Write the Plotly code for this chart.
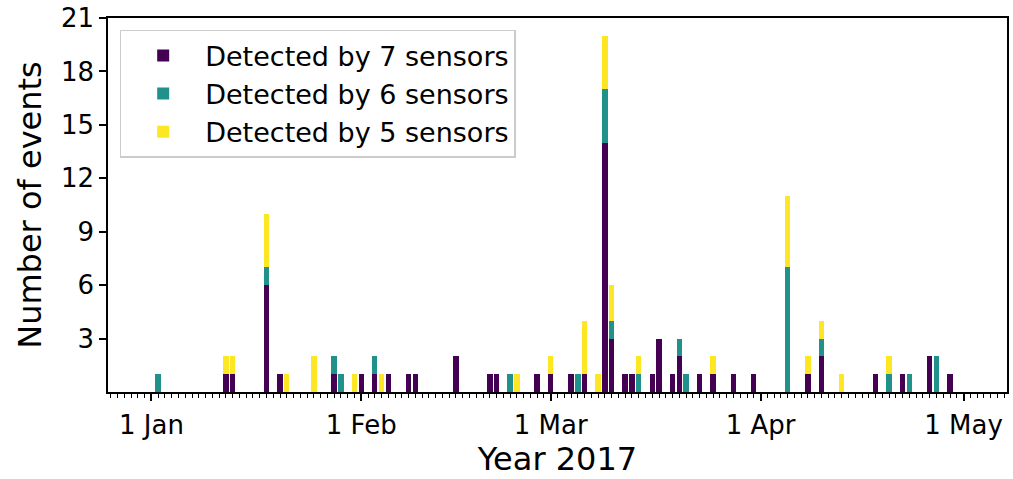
import plotly.graph_objects as go

dates = ["2017-01-02", "2017-01-12", "2017-01-13", "2017-01-18", "2017-01-20", "2017-01-21",
         "2017-01-25", "2017-01-28", "2017-01-29", "2017-01-31", "2017-02-01", "2017-02-03",
         "2017-02-04", "2017-02-05", "2017-02-08", "2017-02-09", "2017-02-15", "2017-02-20",
         "2017-02-21", "2017-02-23", "2017-02-24", "2017-02-27", "2017-03-01", "2017-03-04",
         "2017-03-05", "2017-03-06", "2017-03-08", "2017-03-09", "2017-03-10", "2017-03-12",
         "2017-03-13", "2017-03-14", "2017-03-16", "2017-03-17", "2017-03-19", "2017-03-20",
         "2017-03-21", "2017-03-23", "2017-03-25", "2017-03-28", "2017-03-31", "2017-04-05",
         "2017-04-08", "2017-04-10", "2017-04-13", "2017-04-18", "2017-04-20", "2017-04-22",
         "2017-04-23", "2017-04-26", "2017-04-27", "2017-04-29"]

sensors7 = [0, 1, 1, 6, 1, 0, 0, 1, 0, 0, 1, 1, 0, 1, 1, 1, 2, 1, 1, 0, 0, 1, 1, 1, 0, 1,
            0, 14, 3, 1, 1, 0, 1, 3, 1, 2, 0, 1, 1, 1, 1, 0, 1, 2, 0, 1, 0, 1, 0, 2, 0, 1]
sensors6 = [1, 0, 0, 1, 0, 0, 0, 1, 1, 0, 0, 1, 0, 0, 0, 0, 0, 0, 0, 1, 0, 0, 0, 0, 1, 0,
            0, 3, 1, 0, 0, 1, 0, 0, 0, 1, 1, 0, 0, 0, 0, 7, 0, 1, 0, 0, 1, 0, 1, 0, 2, 0]
sensors5 = [0, 1, 1, 3, 0, 1, 2, 0, 0, 1, 0, 0, 1, 0, 0, 0, 0, 0, 0, 0, 1, 0, 1, 0, 0, 3,
            1, 3, 2, 0, 0, 1, 0, 0, 0, 0, 0, 0, 1, 0, 0, 4, 1, 1, 1, 0, 1, 0, 0, 0, 0, 0]

series = [("Detected by 7 sensors", sensors7, "#440154"),
          ("Detected by 6 sensors", sensors6, "#21918c"),
          ("Detected by 5 sensors", sensors5, "#fde725")]

month_ticks = ["2017-01-01", "2017-02-01", "2017-03-01", "2017-04-01", "2017-05-01"]
month_labels = ["1 Jan", "1 Feb", "1 Mar", "1 Apr", "1 May"]
y_ticks = [3, 6, 9, 12, 15, 18, 21]

DAY_MS = 86400000
fig = go.Figure()
for i, (name, vals, color) in enumerate(series):
    fig.add_trace(go.Bar(x=dates, y=vals, name=name, marker_color=color,
                         marker_line_width=0, width=[0.8 * DAY_MS] * len(dates),
                         legendgroup="g%d" % i))

font = "DejaVu Sans"
fig.update_layout(
    barmode="stack",
    width=1013, height=479,
    margin=dict(l=108, r=6, t=18, b=87, autoexpand=False),
    plot_bgcolor="white", paper_bgcolor="white",
    font=dict(family=font, color="black", size=26),
    legend=dict(x=0.013, y=0.968, xanchor="left", yanchor="top",
                traceorder="normal", bordercolor="#cccccc", borderwidth=1.5,
                tracegroupgap=5, itemwidth=74,
                bgcolor="rgba(255,255,255,0.8)", font=dict(size=27, family=font)),
    showlegend=True,
)
fig.update_xaxes(
    type="date", automargin=False,
    range=["2016-12-25 14:00", "2017-05-07 10:00"],
    tickmode="array", tickvals=month_ticks, ticktext=month_labels,
    ticks="outside", ticklen=7, tickwidth=1.5, tickcolor="black",
    ticklabelstandoff=2,
    minor=dict(dtick=DAY_MS, tick0="2017-01-01", ticks="outside", ticklen=4,
               tickwidth=1, tickcolor="black", showgrid=False),
    showline=True, linecolor="black", linewidth=1.5, mirror=True,
    showgrid=False, zeroline=False,
    title=dict(text="Year 2017", font=dict(size=32, family=font), standoff=6),
    tickfont=dict(size=26, family=font),
)
fig.update_yaxes(
    range=[0, 21], automargin=False,
    tickmode="array", tickvals=y_ticks,
    ticks="outside", ticklen=7, tickwidth=1.5, tickcolor="black",
    showline=True, linecolor="black", linewidth=1.5, mirror=True,
    showgrid=False, zeroline=False,
    title=dict(text="Number of events", font=dict(size=32, family=font), standoff=10),
    tickfont=dict(size=26, family=font),
)
fig.write_html("out.html", config={"displayModeBar": False},
               post_script="document.body.style.margin='0';document.body.style.overflow='hidden';")
